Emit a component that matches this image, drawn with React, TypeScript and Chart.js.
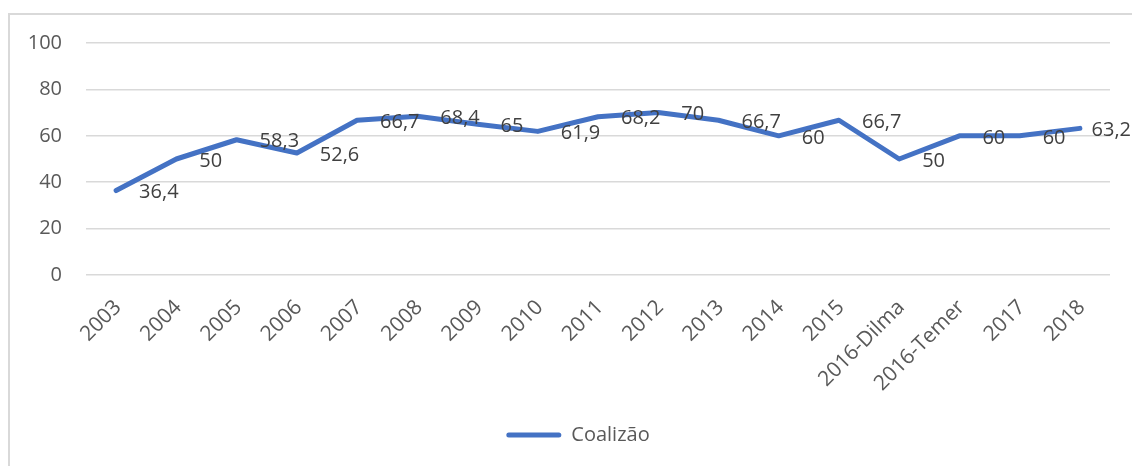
import React, { useEffect, useRef } from 'react';
import { Chart, registerables } from 'chart.js';

Chart.register(...registerables);

const categories = [
  '2003', '2004', '2005', '2006', '2007', '2008', '2009', '2010', '2011',
  '2012', '2013', '2014', '2015', '2016-Dilma', '2016-Temer', '2017', '2018',
];
const coalizao = [36.4, 50, 58.3, 52.6, 66.7, 68.4, 65, 61.9, 68.2, 70, 66.7, 60, 66.7, 50, 60, 60, 63.2];
const seriesName = 'Coalizão';
const yMin = 0;
const yMax = 100;
const yStep = 20;

const FONT = '"Open Sans", "Noto Sans", sans-serif';
const VISIBLE_W = 1124;

const dataLabelPlugin = {
  id: 'dataLabelsRight',
  afterDatasetsDraw(chart: any) {
    const ctx = chart.ctx;
    const meta = chart.getDatasetMeta(0);
    const values = chart.data.datasets[0].data as number[];
    ctx.save();
    ctx.font = `20px ${FONT}`;
    ctx.fillStyle = '#404040';
    ctx.textAlign = 'left';
    ctx.textBaseline = 'middle';
    meta.data.forEach((pt: any, i: number) => {
      const txt = String(values[i]).replace('.', ',');
      const w = ctx.measureText(txt).width;
      const x = Math.min(pt.x + 23, VISIBLE_W - 1 - w);
      ctx.fillText(txt, x, pt.y + 2);
    });
    ctx.restore();
  },
};

export default function App() {
  const canvasRef = useRef<HTMLCanvasElement | null>(null);

  useEffect(() => {
    if (!canvasRef.current) return;
    const chart = new Chart(canvasRef.current, {
      type: 'line',
      data: {
        labels: categories,
        datasets: [
          {
            label: seriesName,
            data: coalizao,
            borderColor: '#4472C4',
            backgroundColor: '#4472C4',
            borderWidth: 5,
            pointRadius: 0,
            pointHoverRadius: 0,
            tension: 0,
            borderCapStyle: 'round',
            borderJoinStyle: 'round',
            fill: false,
            yAxisID: 'y',
          },
        ],
      },
      options: {
        responsive: false,
        animation: false,
        events: [],
        layout: { autoPadding: false, padding: { left: 0, top: 30, right: 0, bottom: 11 } },
        scales: {
          x: {
            offset: true,
            grid: { display: false, drawTicks: false },
            border: { display: false },
            ticks: {
              autoSkip: false,
              maxRotation: 45,
              minRotation: 45,
              color: '#595959',
              font: { family: FONT, size: 21 },
              padding: 20,
              labelOffset: 2,
            },
            afterFit: (scale: any) => {
              scale.height = 140;
              scale.paddingLeft = 0;
              scale.paddingRight = 0;
            },
          },
          y: {
            position: 'left',
            min: yMin,
            max: yMax,
            grid: { color: '#d9d9d9', lineWidth: 1.5, drawTicks: false },
            border: { display: false },
            ticks: {
              stepSize: yStep,
              color: '#595959',
              font: { family: FONT, size: 20 },
              padding: 24,
            },
            afterFit: (scale: any) => {
              scale.width = 78;
              scale.paddingTop = 0;
              scale.paddingBottom = 0;
            },
          },
          yRight: {
            position: 'right',
            display: true,
            min: yMin,
            max: yMax,
            grid: { display: false, drawTicks: false },
            border: { display: false },
            ticks: { display: false },
            afterFit: (scale: any) => {
              scale.width = 38;
              scale.paddingTop = 0;
              scale.paddingBottom = 0;
            },
          },
        },
        plugins: {
          legend: {
            display: true,
            position: 'bottom',
            labels: {
              boxWidth: 55,
              boxHeight: 5,
              color: '#595959',
              font: { family: FONT, size: 20 },
              padding: 10,
              useBorderRadius: true,
              borderRadius: 2.5,
              generateLabels: () => [
                {
                  text: seriesName,
                  fillStyle: '#4472C4',
                  strokeStyle: '#4472C4',
                  lineWidth: 0,
                  hidden: false,
                  datasetIndex: 0,
                  borderRadius: 2.5,
                  fontColor: '#595959',
                },
              ],
            },
          },
          tooltip: { enabled: false },
        },
      },
      plugins: [dataLabelPlugin],
    } as any);
    return () => chart.destroy();
  }, []);

  return (
    <div
      style={{
        position: 'fixed',
        left: 8,
        top: 13,
        width: VISIBLE_W,
        height: 453,
        overflow: 'hidden',
        background: '#ffffff',
      }}
    >
      <div
        style={{
          position: 'absolute',
          left: 0,
          top: 0,
          width: 1140,
          height: 470,
          boxSizing: 'border-box',
          border: '2px solid #d9d9d9',
        }}
      />
      <canvas
        ref={canvasRef}
        width={1140}
        height={453}
        style={{ position: 'absolute', left: 0, top: 0, width: 1140, height: 453 }}
      />
    </div>
  );
}
